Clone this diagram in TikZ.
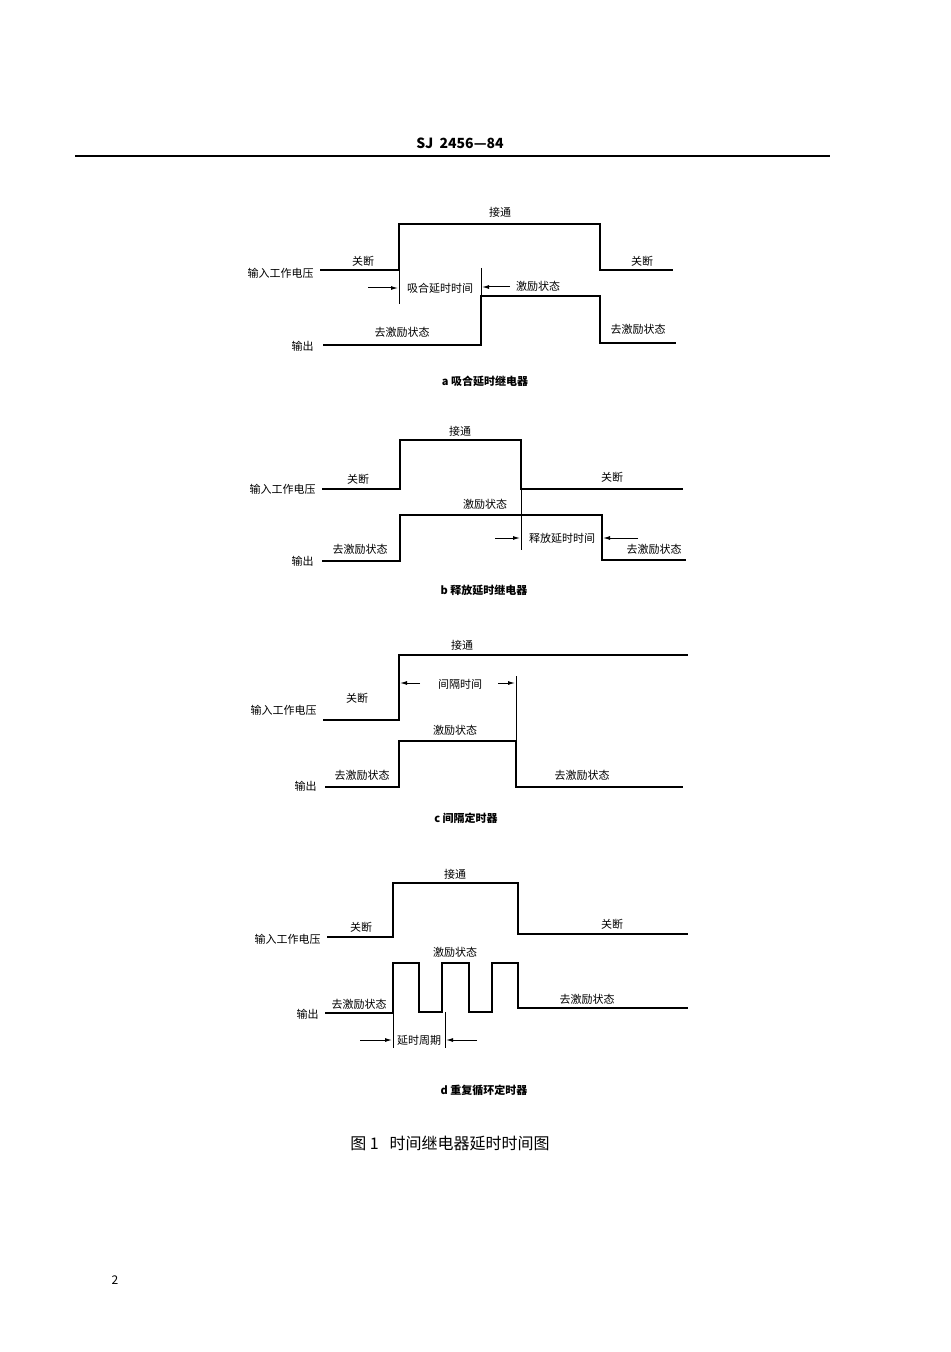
\documentclass[tikz,border=0pt]{standalone}
\usepackage{fontspec}
\setmainfont{Noto Sans CJK SC}
\usetikzlibrary{arrows.meta}
\begin{document}
\begin{tikzpicture}[x=0.5pt,y=-0.5pt,
  wave/.style={line width=1.4pt,line join=miter},
  thin/.style={line width=0.5pt},
  arr/.style={line width=0.5pt,-{Latex[length=3.5pt,width=2pt]}},
  lbl/.style={font=\fontsize{5.5}{6}\selectfont,inner sep=0.5pt},
  subcap/.style={font=\fontsize{5.5}{6}\selectfont\bfseries,inner sep=0.5pt}]
\useasboundingbox[fill=white] (0,0) rectangle (950,1352);
\node[font=\fontsize{7}{8}\selectfont\bfseries] (hdr) at (460,143) {SJ\ \ 2456—84};
\draw[line width=1.1pt] (75,156) -- (830,156);
% ---- a
\draw[wave] (320,270) -- (399,270) -- (399,224) -- (600,224) -- (600,270) -- (673,270);
\draw[wave] (323,345) -- (481,345) -- (481,296) -- (600,296) -- (600,343) -- (676,343);
\draw[thin] (399,270) -- (399,304);
\draw[thin] (481,268) -- (481,296);
\draw[arr] (368,288) -- (398,288);
\draw[arr] (510,287) -- (482,287);
\node[lbl] (a1) at (500,212) {接通};
\node[lbl] (a2) at (363,261) {关断};
\node[lbl] (a3) at (642,261) {关断};
\node[lbl,anchor=east] (a4) at (315,273) {输入工作电压};
\node[lbl] (a5) at (440,288) {吸合延时时间};
\node[lbl] (a6) at (538,286) {激励状态};
\node[lbl] (a7) at (402,332) {去激励状态};
\node[lbl] (a8) at (638,329) {去激励状态};
\node[lbl,anchor=east] (a9) at (315,346) {输出};
\node[subcap] (ac) at (485,381) {a\ 吸合延时继电器};
% ---- b
\draw[wave] (322,489) -- (400,489) -- (400,440) -- (521,440) -- (521,489) -- (683,489);
\draw[wave] (322,561) -- (400,561) -- (400,515) -- (602,515) -- (602,560) -- (686,560);
\draw[thin] (521,489) -- (521,550);
\draw[thin] (602,530) -- (602,560);
\draw[arr] (495,538) -- (520,538);
\draw[arr] (638,538) -- (603,538);
\node[lbl] (b1) at (460,431) {接通};
\node[lbl] (b2) at (358,479) {关断};
\node[lbl] (b3) at (612,477) {关断};
\node[lbl,anchor=east] (b4) at (317,489) {输入工作电压};
\node[lbl] (b5) at (485,504) {激励状态};
\node[lbl] (b6) at (562,538) {释放延时时间};
\node[lbl] (b7) at (360,549) {去激励状态};
\node[lbl] (b8) at (654,549) {去激励状态};
\node[lbl,anchor=east] (b9) at (315,561) {输出};
\node[subcap] (bc) at (484,590) {b\ 释放延时继电器};
% ---- c
\draw[wave] (323,720) -- (399,720) -- (399,655) -- (688,655);
\draw[wave] (325,787) -- (399,787) -- (399,741) -- (516,741) -- (516,787) -- (683,787);
\draw[thin] (399,700) -- (399,720);
\draw[thin] (516,676) -- (516,741);
\draw[arr] (420,683) -- (400,683);
\draw[arr] (498,683) -- (515,683);
\node[lbl] (c1) at (462,645) {接通};
\node[lbl] (c2) at (357,698) {关断};
\node[lbl,anchor=east] (c4) at (318,710) {输入工作电压};
\node[lbl] (c5) at (460,684) {间隔时间};
\node[lbl] (c6) at (455,730) {激励状态};
\node[lbl] (c7) at (362,775) {去激励状态};
\node[lbl] (c8) at (582,775) {去激励状态};
\node[lbl,anchor=east] (c9) at (318,786) {输出};
\node[subcap] (cc) at (466,818) {c\ 间隔定时器};
% ---- d
\draw[wave] (327,937) -- (393,937) -- (393,883) -- (518,883) -- (518,934) -- (688,934);
\draw[wave] (325,1013) -- (393,1013) -- (393,963) -- (419,963) -- (419,1012) -- (442,1012) -- (442,963) -- (469,963) -- (469,1012) -- (492,1012) -- (492,963) -- (518,963) -- (518,1008) -- (688,1008);
\draw[thin] (393,1013) -- (393,1048);
\draw[thin] (445,1012) -- (445,1048);
\draw[arr] (360,1040) -- (392,1040);
\draw[arr] (477,1040) -- (446,1040);
\node[lbl] (d1) at (455,874) {接通};
\node[lbl] (d2) at (361,927) {关断};
\node[lbl] (d3) at (612,924) {关断};
\node[lbl,anchor=east] (d4) at (322,939) {输入工作电压};
\node[lbl] (d5) at (455,952) {激励状态};
\node[lbl] (d6) at (419,1040) {延时周期};
\node[lbl] (d7) at (359,1004) {去激励状态};
\node[lbl] (d8) at (587,999) {去激励状态};
\node[lbl,anchor=east] (d9) at (320,1014) {输出};
\node[subcap] (dc) at (484,1090) {d\ 重复循环定时器};
% ---- figure caption
\node[font=\fontsize{8}{9}\selectfont] (fig) at (450,1143) {图 1\ \ \ 时间继电器延时时间图};
\node[font=\fontsize{6}{7}\selectfont] (pg) at (115,1280) {2};
\end{tikzpicture}
\end{document}
